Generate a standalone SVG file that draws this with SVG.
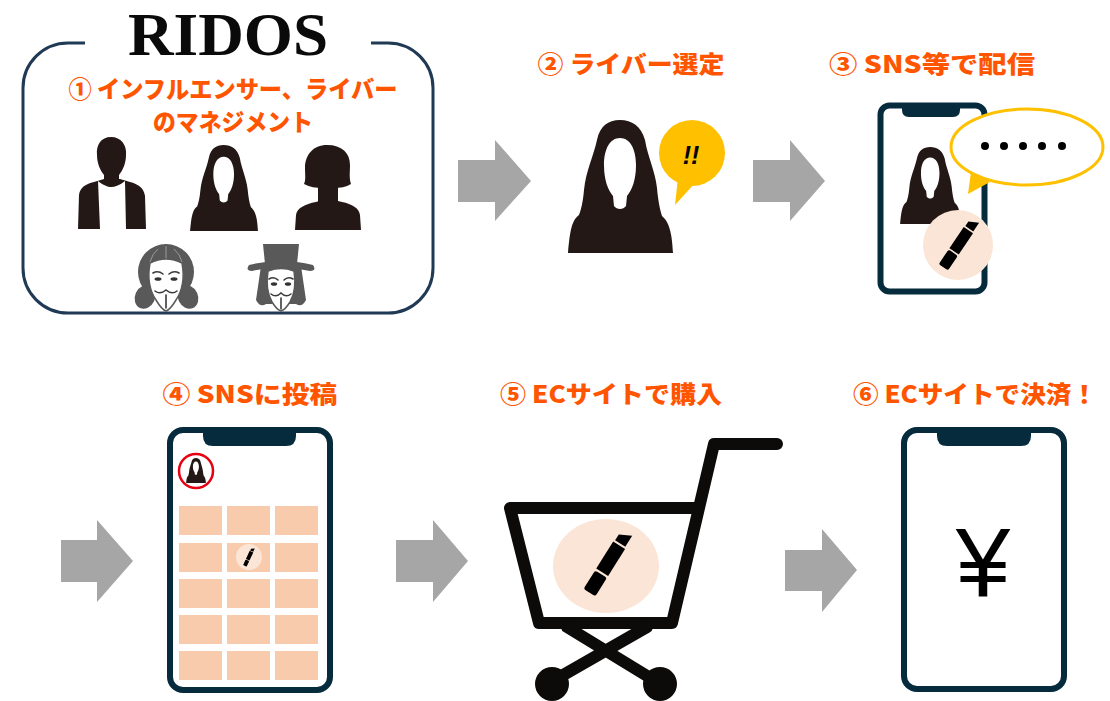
<svg xmlns="http://www.w3.org/2000/svg" xmlns:xlink="http://www.w3.org/1999/xlink" width="1110" height="701" viewBox="0 0 1110 701">
  <style>
    .head { font-family: "Noto Sans CJK JP", "Noto Sans", sans-serif; font-weight: 900; font-size: 24px; fill: #ff5500; text-anchor: middle; }
    .sil { fill: #231815; }
    .hole { fill: #ffffff; }
    .arrow { fill: #a6a6a6; }
    .phone { fill: #ffffff; stroke: #062b3c; stroke-width: 6; }
    .notch { fill: #062b3c; }
    .tile { fill: #f8cbad; }
    .cream { fill: #fbe5d6; }
    .mask-hair { fill: #595959; }
    .mask-face { fill: #ffffff; stroke: #595959; stroke-width: 1.5; }
    .mask-line { fill: none; stroke: #3a3a3a; stroke-width: 1.6; stroke-linecap: round; }
    .cart { fill: none; stroke: #0d0a0a; stroke-width: 12; stroke-linecap: round; stroke-linejoin: round; }
  </style>
  <defs>
    <!-- long-haired woman silhouette, 105 x 133 -->
    <symbol id="woman" viewBox="0 0 105 133" overflow="visible">
      <path class="sil" d="M52,0 C40,0 32,6 29,20 C25,38 18,50 16,70 C15,82 13,90 11,95 C4,100 2,110 0,133 L105,133 C104,112 101,102 94,96 C92,90 90,80 89,68 C87,50 80,38 77,20 C73,6 64,0 52,0 Z"/>
      <path class="hole" d="M52,18 C42,18 36,29 36,45 C36,60 40,70 45,76 L46,86 C49,90 55,90 58,86 L59,76 C64,70 68,60 68,45 C68,29 62,18 52,18 Z"/>
    </symbol>
    <!-- lipstick, vertical, centred on origin -->
    <g id="lipstick">
      <rect x="-7" y="13" width="14" height="22" rx="2.5" fill="#000"/>
      <rect x="-7" y="-21" width="14" height="32" fill="#000"/>
      <path d="M-6,-23 L6,-23 L6,-36 L-6,-30 Z" fill="#000"/>
    </g>
  </defs>

  <rect width="1110" height="701" fill="#ffffff"/>

  <!-- step 1: agency frame with talents -->
  <g id="step1">
    <path d="M85,43 L68,43 A45,45 0 0 0 23,88 L23,268 A45,45 0 0 0 68,313 L388,313 A45,45 0 0 0 433,268 L433,88 A45,45 0 0 0 388,43 L371,43" fill="none" stroke="#203a55" stroke-width="3"/>
    <text x="228" y="55" font-family="Liberation Serif, serif" font-weight="700" font-size="62" fill="#0a0a0a" text-anchor="middle" textLength="200" lengthAdjust="spacingAndGlyphs">RIDOS</text>
    <text class="head" x="233" y="98" textLength="329" lengthAdjust="spacingAndGlyphs">① インフルエンサー、ライバー</text>
    <text class="head" x="233" y="131" textLength="160" lengthAdjust="spacingAndGlyphs">のマネジメント</text>

    <!-- man in vest -->
    <path class="sil" d="M78,229 L79,195 C80,187 86,184 94,182 L104,179 L120,179 L130,182 C138,184 144,188 145,196 L146,229 Z"/>
    <path class="sil" d="M111,137 C101,137 96,145 97,155 C97,163 100,170 104,175 L104,182 L119,182 L119,175 C123,170 126,163 126,155 C127,145 121,137 111,137 Z"/>
    <path class="hole" d="M98,181 C103,185 108,187 111,187 C115,187 120,185 125,181 L126,229 L100,229 Z"/>

    <!-- long-haired woman -->
    <use href="#woman" x="190" y="145" width="68" height="86"/>

    <!-- bob-haired woman -->
    <path class="sil" d="M295,230 L296,215 C297,208 305,204 316,202 L322,200 L334,200 L342,202 C352,204 359,208 360,215 L361,230 Z"/>
    <rect class="sil" x="318" y="178" width="20" height="26"/>
    <path class="sil" d="M327,145 C313,145 305,155 305,168 C305,175 306,180 304,184 C310,187 316,188 322,188 L334,188 C340,188 346,187 351,184 C349,178 350,172 350,165 C350,153 342,145 327,145 Z"/>

    <!-- masked girl with pigtails -->
    <g>
      <ellipse class="mask-hair" cx="145" cy="297" rx="10" ry="12" transform="rotate(25 145 297)"/>
      <ellipse class="mask-hair" cx="188" cy="297" rx="10" ry="12" transform="rotate(-25 188 297)"/>
      <circle class="mask-hair" cx="166" cy="272" r="28"/>
      <path d="M166,246 L166,262 M158,249 Q152,254 150,262 M174,249 Q180,254 182,262" fill="none" stroke="#9a9a9a" stroke-width="1"/>
      <path class="mask-face" d="M150,263 Q166,255 182,263 Q186,285 176,300 Q170,310 166,311 Q162,310 156,300 Q146,285 150,263 Z"/>
      <path class="mask-line" d="M153,273 Q158,270 163,274 M169,274 Q174,270 179,273"/>
      <ellipse cx="158" cy="279" rx="3.5" ry="1.8" fill="#333"/>
      <ellipse cx="174" cy="279" rx="3.5" ry="1.8" fill="#333"/>
      <path class="mask-line" d="M155,291 Q160,295 166,290 Q172,295 177,291 M166,295 L166,308"/>
    </g>

    <!-- masked figure with hat -->
    <g>
      <path class="mask-hair" d="M261,266 L301,266 L306,300 Q302,308 296,304 L266,304 Q260,308 256,300 Z"/>
      <path class="mask-hair" d="M263,244 L299,244 L297,264 L265,264 Z"/>
      <path class="mask-hair" d="M249,265 Q281,257 313,265 Q317,271 310,271 Q281,264 252,271 Q245,271 249,265 Z"/>
      <path class="mask-face" d="M268,271 Q281,266 294,271 Q297,290 290,302 Q285,310 281,311 Q277,310 272,302 Q265,290 268,271 Z"/>
      <path class="mask-line" d="M269,279 Q274,276 278,280 M284,280 Q288,276 293,279"/>
      <ellipse cx="274" cy="284" rx="3.2" ry="1.8" fill="#333"/>
      <ellipse cx="288" cy="284" rx="3.2" ry="1.8" fill="#333"/>
      <path class="mask-line" d="M271,294 Q276,298 281,293 Q286,298 291,294 M281,298 L281,309"/>
    </g>
  </g>

  <!-- step 2: selecting a streamer -->
  <g id="step2">
    <text class="head" x="631" y="73" textLength="187" lengthAdjust="spacingAndGlyphs">② ライバー選定</text>
    <use href="#woman" x="568" y="120" width="105" height="133"/>
    <path d="M678,178 L675,205 L695,183 Z" fill="#ffc000"/>
    <circle cx="692" cy="153" r="33" fill="#ffc000"/>
    <text x="691" y="164" font-family="Liberation Sans, sans-serif" font-weight="700" font-style="italic" font-size="25" fill="#000" text-anchor="middle">!!</text>
  </g>

  <!-- step 3: streaming on social media -->
  <g id="step3">
    <text class="head" x="932" y="73" textLength="206" lengthAdjust="spacingAndGlyphs">③ SNS等で配信</text>
    <rect x="880.5" y="105.5" width="104" height="186" rx="9" class="phone" stroke-width="5"/>
    <path class="notch" d="M902,104 L902,110 Q902,117 909,117 L953,117 Q960,117 960,110 L960,104 Z"/>
    <use href="#woman" x="900" y="147" width="61" height="77"/>
    <circle class="cream" cx="958" cy="245" r="35"/>
    <use href="#lipstick" transform="translate(959 244) rotate(34) scale(0.8)"/>
    <ellipse cx="1027" cy="147" rx="76" ry="38" fill="#ffffff" stroke="#ffc000" stroke-width="3"/>
    <path d="M971,172 L968,194 L990,182 Z" fill="#ffc000"/>
    <g fill="#000">
      <circle cx="985" cy="146" r="4"/>
      <circle cx="1004" cy="146" r="4"/>
      <circle cx="1023" cy="146" r="4"/>
      <circle cx="1042" cy="146" r="4"/>
      <circle cx="1062" cy="146" r="4"/>
    </g>
  </g>

  <!-- step 4: posted on social media -->
  <g id="step4">
    <text class="head" x="250" y="403" textLength="175" lengthAdjust="spacingAndGlyphs">④ SNSに投稿</text>
    <rect x="170" y="430" width="160" height="260" rx="13" class="phone"/>
    <path class="notch" d="M203,428 L203,436 Q203,446 213,446 L286,446 Q296,446 296,436 L296,428 Z"/>
    <circle cx="196" cy="471" r="17" fill="#ffffff" stroke="#e60012" stroke-width="2.5"/>
    <use href="#woman" x="186" y="458" width="20" height="25"/>
    <g>
      <rect class="tile" x="179" y="506" width="43" height="29"/>
      <rect class="tile" x="227" y="506" width="43" height="29"/>
      <rect class="tile" x="275" y="506" width="43" height="29"/>
      <rect class="tile" x="179" y="543" width="43" height="29"/>
      <rect class="tile" x="227" y="543" width="43" height="29"/>
      <rect class="tile" x="275" y="543" width="43" height="29"/>
      <rect class="tile" x="179" y="579" width="43" height="29"/>
      <rect class="tile" x="227" y="579" width="43" height="29"/>
      <rect class="tile" x="275" y="579" width="43" height="29"/>
      <rect class="tile" x="179" y="615" width="43" height="29"/>
      <rect class="tile" x="227" y="615" width="43" height="29"/>
      <rect class="tile" x="275" y="615" width="43" height="29"/>
      <rect class="tile" x="179" y="651" width="43" height="29"/>
      <rect class="tile" x="227" y="651" width="43" height="29"/>
      <rect class="tile" x="275" y="651" width="43" height="29"/>
    </g>
    <circle cx="249" cy="557" r="13" fill="#fbe5d6"/>
    <use href="#lipstick" transform="translate(249 557) rotate(25) scale(0.28)"/>
  </g>

  <!-- step 5: purchase on the shop -->
  <g id="step5">
    <text class="head" x="611" y="403" textLength="222" lengthAdjust="spacingAndGlyphs">⑤ ECサイトで購入</text>
    <ellipse class="cream" cx="606" cy="566" rx="53" ry="47"/>
    <use href="#lipstick" transform="translate(608 563) rotate(32)"/>
    <path class="cart" d="M777,444 L714,444 L672,623 L539,623 L510,508 L694,508"/>
    <path class="cart" d="M567,627 L657,682 M647,627 L551,682" stroke-width="10"/>
    <circle cx="552" cy="684" r="17" fill="#0d0a0a"/>
    <circle cx="660" cy="684" r="17" fill="#0d0a0a"/>
  </g>

  <!-- step 6: payment -->
  <g id="step6">
    <text class="head" x="975" y="403" textLength="244" lengthAdjust="spacingAndGlyphs">⑥ ECサイトで決済！</text>
    <rect x="904" y="430" width="160" height="259" rx="13" class="phone"/>
    <path class="notch" d="M937,428 L937,436 Q937,446 947,446 L1021,446 Q1031,446 1031,436 L1031,428 Z"/>
    <text x="983" y="597" font-family="Liberation Sans, sans-serif" font-size="98" fill="#000" text-anchor="middle">¥</text>
  </g>

  <!-- flow arrows between steps -->
  <g id="connectors">
    <path class="arrow" d="M458,160 L495,160 L495,140 L531,181 L495,221 L495,202 L458,202 Z"/>
    <path class="arrow" d="M753,160 L790,160 L790,140 L825,181 L790,221 L790,202 L753,202 Z"/>
    <path class="arrow" d="M61,540 L97,540 L97,520 L133,561 L97,602 L97,582 L61,582 Z"/>
    <path class="arrow" d="M396,540 L433,540 L433,520 L468,561 L433,602 L433,582 L396,582 Z"/>
    <path class="arrow" d="M785,550 L822,550 L822,529 L857,570 L822,612 L822,591 L785,591 Z"/>
  </g>
</svg>
